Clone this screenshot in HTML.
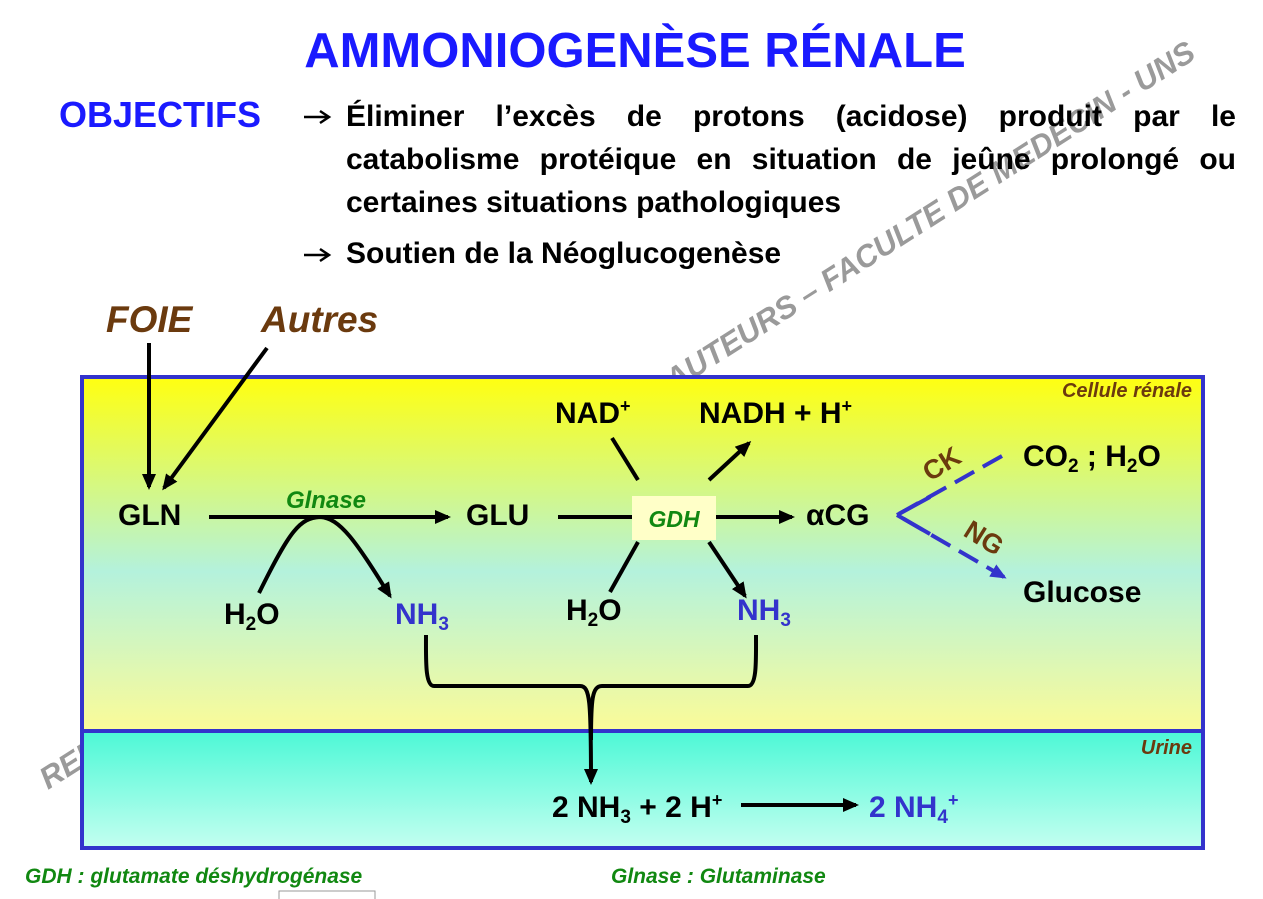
<!DOCTYPE html>
<html><head><meta charset="utf-8"><style>
body{margin:0;background:#fff;position:relative;width:1263px;height:899px;overflow:hidden;}
svg{display:block;font-family:"Liberation Sans",Arial,sans-serif;}
.obj{position:absolute;left:346px;width:890px;font-family:"Liberation Sans",Arial,sans-serif;font-weight:bold;font-size:30px;line-height:43px;text-align:justify;color:#000;}
</style></head><body>
<svg width="1263" height="899" viewBox="0 0 1263 899" xmlns="http://www.w3.org/2000/svg">
<defs>
<linearGradient id="g1" x1="0" y1="0" x2="0" y2="1">
<stop offset="0" stop-color="#ffff10"/>
<stop offset="0.55" stop-color="#b4f2dc"/>
<stop offset="1" stop-color="#fbfb98"/>
</linearGradient>
<linearGradient id="g2" x1="0" y1="0" x2="0" y2="1">
<stop offset="0" stop-color="#4cf8d6"/>
<stop offset="1" stop-color="#c4fff0"/>
</linearGradient>
<marker id="ah" markerWidth="16" markerHeight="14" refX="13" refY="7" orient="auto" markerUnits="userSpaceOnUse" viewBox="0 0 16 14"><path d="M0,0 L16,7 L0,14 z" fill="#000"/></marker>
<marker id="ab" markerWidth="16" markerHeight="14" refX="13" refY="7" orient="auto" markerUnits="userSpaceOnUse" viewBox="0 0 16 14"><path d="M0,0 L16,7 L0,14 z" fill="#3333cc"/></marker>
</defs>
<text x="0" y="0" transform="translate(48,790) rotate(-32.5)" font-size="31" font-style="italic" font-weight="bold" fill="#9a9a9a">REPRODUCTION INTERDITE SANS ACCORD DES AUTEURS – FACULTE DE MEDECIN - UNS</text>

<text x="635" y="67" text-anchor="middle" font-size="49" font-weight="bold" fill="#1a1aff">AMMONIOGENÈSE RÉNALE</text>
<text x="59" y="127" font-size="36" font-weight="bold" fill="#1a1aff">OBJECTIFS</text>
<g stroke="#000" stroke-width="2.5" fill="none">
<path d="M304 117 L328 117 M320 111 L329 117 L320 123"/>
<path d="M304 255 L328 255 M320 249 L329 255 L320 261"/>
</g>
<g font-size="37" font-weight="bold" font-style="italic" fill="#6b3a0e">
<text x="106" y="332">FOIE</text>
<text x="261" y="332">Autres</text>
</g>

<rect x="82" y="377" width="1121" height="354" fill="url(#g1)" stroke="#3333cc" stroke-width="4"/>
<rect x="82" y="731" width="1121" height="117" fill="url(#g2)" stroke="#3333cc" stroke-width="4"/>
<g font-size="20" font-weight="bold" font-style="italic" fill="#6b3a0e" text-anchor="end">
<text x="1192" y="397">Cellule rénale</text>
<text x="1192" y="754">Urine</text>
</g>

<g stroke="#000" stroke-width="4" fill="none">
<line x1="149" y1="343" x2="149" y2="487" marker-end="url(#ah)"/>
<line x1="267" y1="348" x2="164" y2="488" marker-end="url(#ah)"/>
<line x1="209" y1="517" x2="448" y2="517" marker-end="url(#ah)"/>
<path d="M259 593 C290 530 300 518 320 517 C340 518 355 540 390 596" marker-end="url(#ah)"/>
<line x1="558" y1="517" x2="792" y2="517" marker-end="url(#ah)"/>
<path d="M612 438 L638 480"/>
<path d="M709 480 L749 443" marker-end="url(#ah)"/>
<path d="M638 542 L610 592"/>
<path d="M709 542 L745 596" marker-end="url(#ah)"/>
<path d="M426 635 C426 660 425 686 434 686 L580 686 C590 686 591 700 591 782" marker-end="url(#ah)"/>
<path d="M756 635 C756 660 757 686 748 686 L602 686 C592 686 591 700 591 740"/>
<line x1="741" y1="805" x2="856" y2="805" marker-end="url(#ah)"/>
</g>
<g stroke="#3333cc" stroke-width="4" fill="none" stroke-dasharray="22,10">
<path d="M1002 456 L897 515 L1004 577" marker-end="url(#ab)"/>
</g>
<path d="M897 515 L930 497 M897 515 L930 534" stroke="#3333cc" stroke-width="4" fill="none"/>
<rect x="632" y="496" width="84" height="44" fill="#ffffc8"/>
<g font-size="23" font-weight="bold" font-style="italic" fill="#118811">
<text x="674" y="527" text-anchor="middle">GDH</text>
<text x="326" y="508" text-anchor="middle" font-size="24">Glnase</text>
</g>
<g font-size="30" font-weight="bold" fill="#000">
<text x="118" y="525">GLN</text>
<text x="466" y="525">GLU</text>
<text x="555" y="423">NAD<tspan font-size="18" dy="-11">+</tspan></text>
<text x="699" y="423">NADH + H<tspan font-size="18" dy="-11">+</tspan></text>
<text x="806" y="525">αCG</text>
<text x="1023" y="466">CO<tspan font-size="19" dy="6">2</tspan><tspan dy="-6"> ;  H</tspan><tspan font-size="19" dy="6">2</tspan><tspan dy="-6">O</tspan></text>
<text x="1023" y="602">Glucose</text>
<text x="224" y="624">H<tspan font-size="19" dy="6">2</tspan><tspan dy="-6">O</tspan></text>
<text x="566" y="620">H<tspan font-size="19" dy="6">2</tspan><tspan dy="-6">O</tspan></text>
<text x="552" y="817">2 NH<tspan font-size="19" dy="6">3</tspan><tspan dy="-6"> + 2 H</tspan><tspan font-size="18" dy="-11">+</tspan></text>
</g>
<g font-size="30" font-weight="bold" fill="#3333cc">
<text x="395" y="624">NH<tspan font-size="19" dy="6">3</tspan></text>
<text x="737" y="620">NH<tspan font-size="19" dy="6">3</tspan></text>
<text x="869" y="817">2 NH<tspan font-size="19" dy="6">4</tspan><tspan font-size="18" dy="-17">+</tspan></text>
</g>
<g font-size="27" font-weight="bold" fill="#6b3a0e">
<text x="0" y="0" transform="translate(930,482) rotate(-32)">CK</text>
<text x="0" y="0" transform="translate(962,535) rotate(32)">NG</text>
</g>
<g font-size="21" font-weight="bold" font-style="italic" fill="#118811">
<text x="25" y="883">GDH : glutamate déshydrogénase</text>
<text x="611" y="883">Glnase : Glutaminase</text>
</g>
<rect x="279" y="891" width="96" height="10" fill="#fff" stroke="#999" stroke-width="1"/>
</svg>
<div class="obj" style="top:95px;">Éliminer l’excès de protons (acidose) produit par le catabolisme protéique en situation de jeûne prolongé ou certaines situations pathologiques</div>
<div class="obj" style="top:232px;">Soutien de la Néoglucogenèse</div>
</body></html>
